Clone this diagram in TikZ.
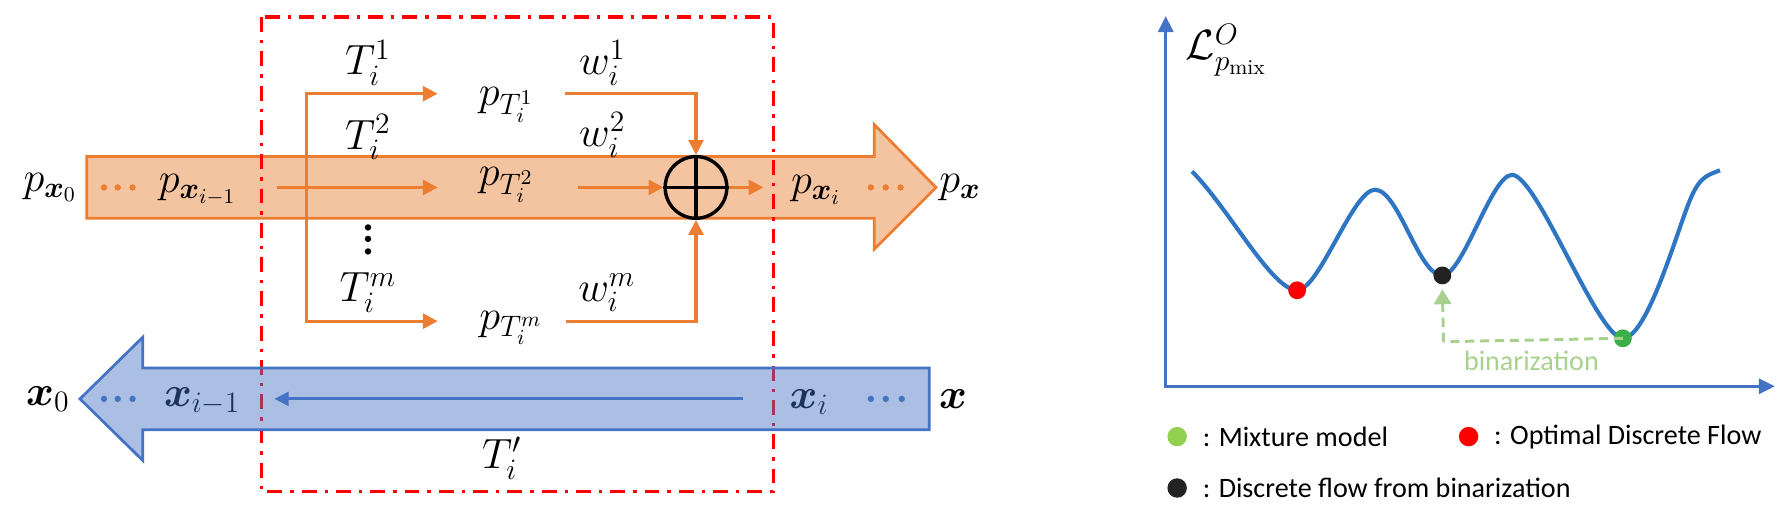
\RequirePackage{fix-cm}
\documentclass[tikz,border=0pt]{standalone}
\usepackage{amsmath,bm}
\usepackage{fontspec}
\newfontfamily\legendfont{Carlito}
\usetikzlibrary{arrows.meta}
\definecolor{orLine}{RGB}{237,125,49}
\definecolor{orFill}{RGB}{244,196,160}
\definecolor{blLine}{RGB}{68,114,196}
\definecolor{redBox}{RGB}{255,0,0}
\definecolor{curveBlue}{RGB}{46,117,196}
\definecolor{binGreen}{RGB}{169,209,142}
\definecolor{dotGreen}{RGB}{60,176,72}
\definecolor{legGreen}{RGB}{146,208,80}
\definecolor{dotBlack}{RGB}{34,34,34}
\begin{document}
\begin{tikzpicture}[x=0.5pt,y=-0.5pt,
  mlabel/.style={inner sep=0pt, font=\fontsize{18.5}{21}\selectfont},
  oline/.style={draw=orLine, line width=1.4pt},
  oarrow/.style={oline, -{Triangle[length=6.5pt,width=6.5pt]}},
  barrow/.style={draw=blLine, line width=1.4pt, -{Triangle[length=6.3pt,width=6pt]}},
  odot/.style={circle, fill=orLine, inner sep=0pt, minimum size=2.8pt},
  bdot/.style={circle, fill=blLine, inner sep=0pt, minimum size=2.8pt},
  kdot/.style={circle, fill=black, inner sep=0pt, minimum size=2.8pt},
  axis/.style={draw=blLine, line width=1.5pt, -{Triangle[length=7pt,width=6.5pt]}},
  ptdot/.style={circle, inner sep=0pt, minimum size=7.8pt},
  legdot/.style={circle, inner sep=0pt, minimum size=8.5pt},
  legtext/.style={anchor=west, inner sep=0pt, font=\legendfont\fontsize{12.3}{14}\selectfont},
  gdash/.style={draw=binGreen, line width=1.3pt, dash pattern=on 4pt off 2.5pt},
  redbox/.style={draw=redBox, line width=1.5pt, dash pattern=on 6.5pt off 3.5pt on 1.5pt off 3.5pt}
]
\useasboundingbox (0,0) rectangle (1568,452);

% ---------- orange forward arrow ----------
\draw[orLine, line width=1.2pt, fill=orFill]
  (76,137) -- (765,137) -- (765,109) -- (819,164) -- (765,218) -- (765,191) -- (76,191) -- cycle;

% red dash-dot box
\draw[redbox] (229,15) rectangle (677,430);

% labels on the orange arrow
\node[mlabel] (p0) at (44,164) {$p_{\bm{x}_0}$};
\node[odot] (od1) at (91,164) {};
\node[odot] (od2) at (103,164) {};
\node[odot] (od3) at (116,164) {};
\node[mlabel] (pim1) at (173,166) {$p_{\bm{x}_{i-1}}$};

\node[mlabel] (T1) at (322,55) {$T_i^1$};
\node[mlabel] (T2) at (322,120) {$T_i^2$};
\node[mlabel] (Tm) at (322,256) {$T_i^m$};
\node[kdot] (vd1) at (322,199) {};
\node[kdot] (vd2) at (322,209) {};
\node[kdot] (vd3) at (322,220) {};

\node[mlabel] (pT1) at (443,92) {$p_{T_i^1}$};
\node[mlabel] (pT2) at (443,162) {$p_{T_i^2}$};
\node[mlabel] (pTm) at (447,287) {$p_{T_i^m}$};

\node[mlabel] (w1) at (527,55) {$w_i^1$};
\node[mlabel] (w2) at (527,118) {$w_i^2$};
\node[mlabel] (wm) at (531,256) {$w_i^m$};

\node[draw=black, line width=1.5pt, circle, inner sep=0pt, minimum size=27pt] (plus) at (609,164) {};
\draw[black, line width=1.5pt] (plus.north) -- (plus.south) (plus.west) -- (plus.east);

\node[mlabel] (pxi) at (714,166) {$p_{\bm{x}_i}$};
\node[odot] (od4) at (762,164) {};
\node[odot] (od5) at (775,164) {};
\node[odot] (od6) at (788,164) {};
\node[mlabel] (px) at (840,164) {$p_{\bm{x}}$};

% branch connectors
\coordinate (vtop) at (268,82);
\coordinate (vbot) at (268,281);
\coordinate (mstart) at (242,164);
\coordinate (e1) at (383,82);
\coordinate (e2) at (383,164);
\coordinate (em) at (383,281);
\coordinate (s1) at (494,82);
\coordinate (s2) at (506,164);
\coordinate (sm) at (495,281);
\coordinate (outend) at (668,164);
\draw[oline, line cap=rect] (vtop) -- (vbot);
\draw[oarrow] (vtop) -- (e1);
\draw[oarrow] (mstart) -- (e2);
\draw[oarrow] (vbot) -- (em);
\draw[oarrow] (s1) -| (plus.north);
\draw[oarrow] (s2) -- (plus.west);
\draw[oarrow] (sm) -| (plus.south);
\draw[oarrow] (plus.east) -- (outend);

% ---------- blue backward arrow ----------
\node[mlabel] (x0) at (42,349) {$\bm{x}_0$};
\node[mlabel] (xim1) at (177,351) {$\bm{x}_{i-1}$};
\node[mlabel] (xi) at (708,352) {$\bm{x}_i$};
\node[mlabel] (xx) at (834,349) {$\bm{x}$};
\node[mlabel] (Tp) at (439,401) {$T_i'$};

\draw[blLine, line width=1.2pt, fill=blLine, fill opacity=0.45]
  (813,322) -- (125,322) -- (125,295) -- (70,349) -- (125,403) -- (125,376) -- (813,376) -- cycle;
\node[bdot] (bd1) at (91,349) {};
\node[bdot] (bd2) at (103,349) {};
\node[bdot] (bd3) at (116,349) {};
\node[bdot] (bd4) at (762,349) {};
\node[bdot] (bd5) at (775,349) {};
\node[bdot] (bd6) at (789,349) {};
\coordinate (bstart) at (650,349);
\coordinate (bend) at (240,349);
\draw[barrow] (bstart) -- (bend);

% ---------- right plot ----------
\coordinate (origin) at (1020,338);
\coordinate (ytop) at (1020,14);
\coordinate (xend) at (1553,338);
\draw[axis] ([yshift=-0.75pt]origin) -- (ytop);
\draw[axis] ([xshift=-0.75pt]origin) -- (xend);
\node[mlabel, anchor=west] (Lab) at (1037,44) {$\mathcal{L}^{O}_{p_{\mathrm{mix}}}$};

\coordinate (cstart) at (1043,150);
\coordinate (peakA) at (1203,166);
\coordinate (peakB) at (1323,153);
\coordinate (bend1) at (1480,172);
\coordinate (cend) at (1505,149);
\draw[curveBlue, line width=1.8pt]
  (cstart) .. controls (1075,182) and (1113,254) .. (1135,254)
  .. controls (1154,254) and (1184,166) .. (peakA)
  .. controls (1224,166) and (1241,241) .. (1262,241)
  .. controls (1280,241) and (1305,153) .. (peakB)
  .. controls (1345,153) and (1398,296) .. (1420,296)
  .. controls (1442,296) and (1469,196) .. (bend1)
  .. controls (1488,154) and (1495,153) .. (cend);

\node[ptdot, fill=red] (redpt) at (1135,254) {};
\node[ptdot, fill=dotBlack] (blackpt) at (1262,241) {};
\node[ptdot, fill=dotGreen] (greenpt) at (1420,296) {};

\coordinate (corner) at (1263,299);
\draw[gdash] (greenpt.center) -- (corner);
\draw[gdash, -{Triangle[length=6.5pt,width=7.5pt]}, shorten >=2pt] (corner) -- (blackpt.south);
\node[inner sep=0pt, text=binGreen, font=\legendfont\fontsize{12.3}{14}\selectfont] (bin) at (1340,316) {binarization};

% legend
\node[legdot, fill=legGreen] (lg1) at (1030,382) {};
\node[legtext] (lt1) at (1052,382) {: Mixture model};
\node[legdot, fill=red] (lg2) at (1285,382) {};
\node[legtext] (lt2) at (1307,382) {: Optimal Discrete Flow};
\node[legdot, fill=dotBlack] (lg3) at (1030,427) {};
\node[legtext] (lt3) at (1052,427) {: Discrete flow from binarization};
\end{tikzpicture}
\end{document}
